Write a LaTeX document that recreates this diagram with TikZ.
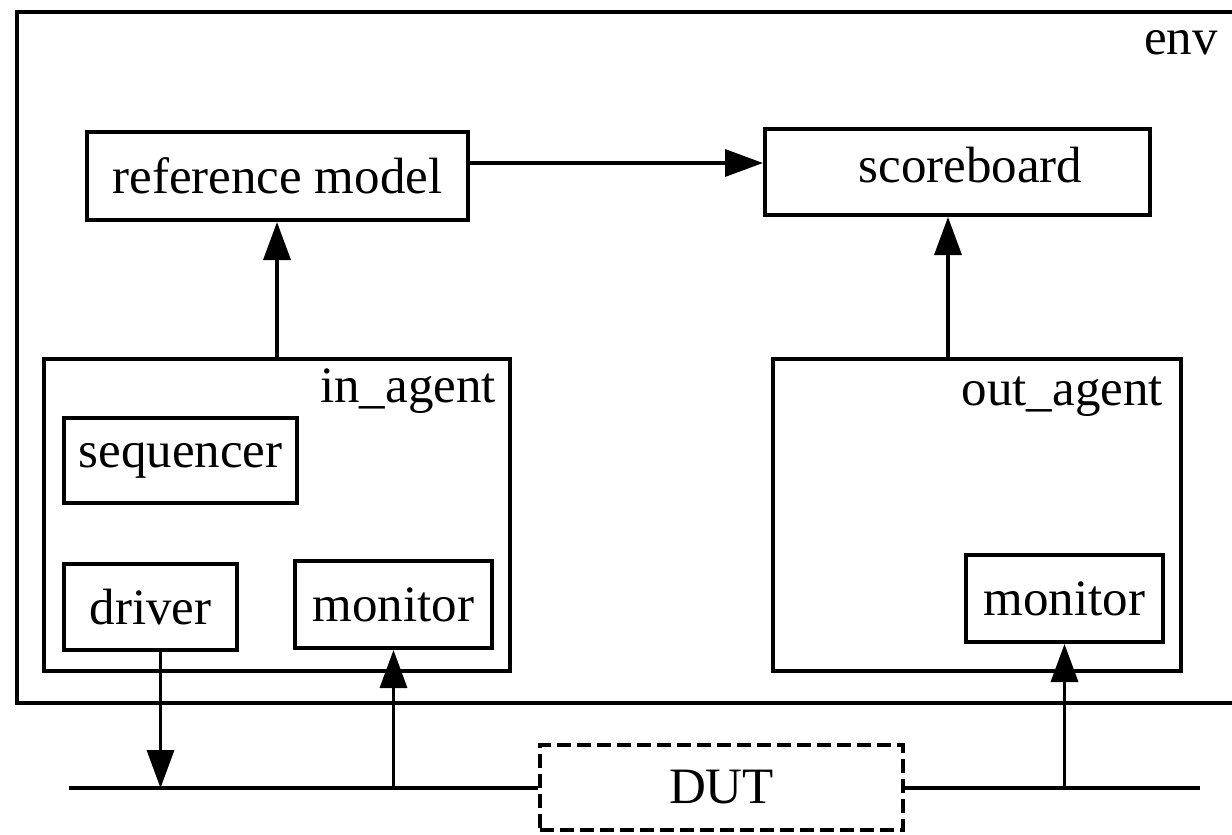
\documentclass[tikz,border=0pt]{standalone}
\usepackage{fontspec}
\setmainfont{Liberation Serif}
\usetikzlibrary{arrows.meta}

\begin{document}
\begin{tikzpicture}[x=1pt,y=-1pt,
  box/.style={draw=black, line width=4pt, rectangle, inner sep=0pt, text=black},
  conn/.style={draw=black, line width=3.5pt, -{Triangle[length=38pt,width=27pt]}},
  busline/.style={draw=black, line width=3.5pt},
  lbl/.style={inner sep=0pt, text=black},
  every node/.append style={font=\fontsize{51}{60}\selectfont}]

% canvas
\fill[white] (0,0) rectangle (1232,835);
\useasboundingbox (0,0) rectangle (1232,835);

% environment container (its right side runs past the page)
\node[box, minimum width=1230pt, minimum height=691pt] (env) at (631.5,357) {};
\node[lbl, anchor=base east] (envlbl) at (1218,54) {env};

% top row
\node[box, minimum width=381pt, minimum height=88pt] (ref) at (277.5,176) {reference model};
\node[box, minimum width=385pt, minimum height=86pt] (sb) at (957.5,172)
  {\hspace*{26pt}scoreboard\rule[-15pt]{0pt}{15pt}};

% input agent
\node[box, minimum width=466pt, minimum height=312pt] (inagent) at (277,515) {};
\node[lbl, anchor=base east] (inlbl) at (496,402) {in\_agent};
\node[box, minimum width=233pt, minimum height=85pt] (seq) at (180.5,460.5) {sequencer};
\node[box, minimum width=173pt, minimum height=86pt] (drv) at (150.5,607) {driver};
\node[box, minimum width=197pt, minimum height=87pt] (monin) at (393.5,604.5) {monitor};

% output agent
\node[box, minimum width=408pt, minimum height=312pt] (outagent) at (977,515) {};
\node[lbl, anchor=base east] (outlbl) at (1163,405) {out\_agent};
\node[box, minimum width=197pt, minimum height=87pt] (monout) at (1064.5,598.5) {monitor};

% design under test on the bus
\node[box, dashed, dash pattern=on 14pt off 6pt, minimum width=363pt, minimum height=85pt]
  (dut) at (721.5,787.5) {DUT};
\coordinate (busL) at (69,788);
\coordinate (busR) at (1200,788);
\draw[busline] (busL) -- (busL -| dut.west);
\draw[busline] (busR -| dut.east) -- (busR);

% connectors
\draw[conn] ([yshift=13pt]ref.east) coordinate (a1) -- (a1 -| sb.west);
\draw[conn] (inagent.north) -- (inagent.north |- ref.south);
\draw[conn] ([xshift=-29pt]outagent.north) coordinate (a2) -- (a2 |- sb.south);
\draw[conn] ([xshift=10pt]drv.south) coordinate (a3) -- (a3 |- busL);
\draw[conn] (monin.south |- busL) -- (monin.south);
\draw[conn] (monout.south |- busR) -- (monout.south);
\end{tikzpicture}
\end{document}
